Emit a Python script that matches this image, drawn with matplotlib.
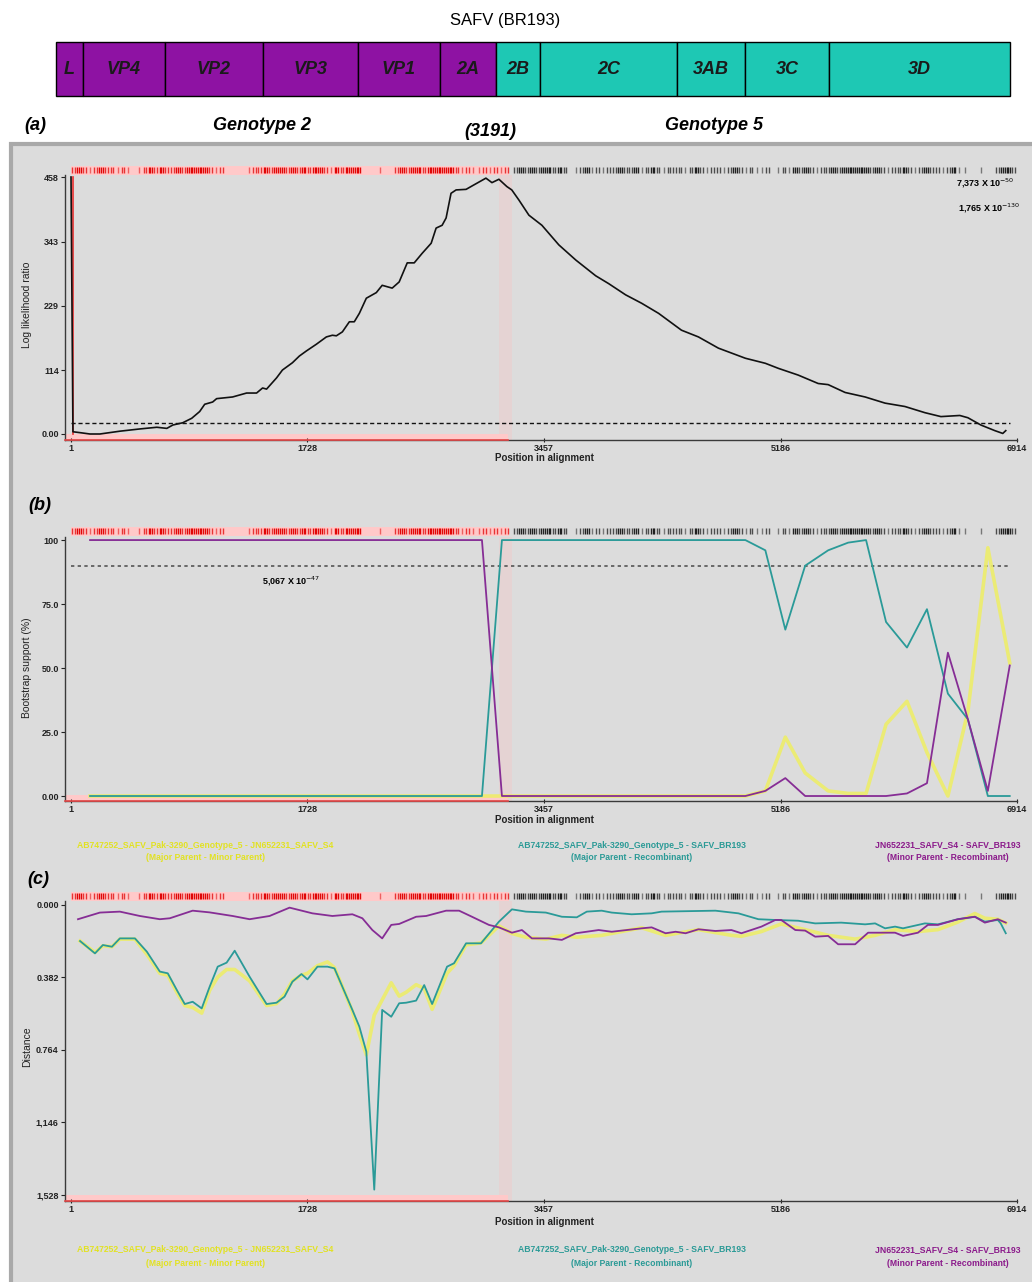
import matplotlib
matplotlib.use("Agg")
import matplotlib.pyplot as plt
import matplotlib.transforms as mtransforms
from matplotlib.collections import LineCollection
from matplotlib.patches import Rectangle

plt.rcParams['font.family'] = ['Liberation Sans', 'DejaVu Sans']

# ---------------- data ----------------
# genome map (SAFV BR193), alignment coordinates
gene_names = ["L", "VP4", "VP2", "VP3", "VP1", "2A", "2B", "2C", "3AB", "3C", "3D"]
gene_start = [1, 196, 790, 1500, 2189, 2783, 3191, 3508, 4500, 4993, 5602]
gene_end = [196, 790, 1500, 2189, 2783, 3191, 3508, 4500, 4993, 5602, 6914]
breakpoint = 3191
aln_len = 6914

x_ticks = [1, 1728, 3457, 5186, 6914]

# (a) log likelihood ratio
lrt_pos = [1, 15, 79, 139, 212, 358, 504, 628, 701, 745, 817, 883, 941, 978, 1036,
           1065, 1182, 1284, 1357, 1401, 1430, 1503, 1546, 1619, 1670, 1721, 1794,
           1867, 1911, 1940, 1984, 2035, 2071, 2108, 2159, 2232, 2275, 2348, 2399,
           2458, 2509, 2567, 2633, 2669, 2713, 2742, 2778, 2815, 2888, 2931, 3033,
           3077, 3128, 3186, 3222, 3274, 3347, 3442, 3566, 3690, 3835, 3930, 4054,
           4171, 4295, 4462, 4586, 4732, 4929, 5075, 5170, 5315, 5461, 5534, 5658,
           5804, 5950, 6095, 6241, 6358, 6496, 6555, 6650, 6752, 6810, 6832]
lrt_val = [458, 4, 2, 0, 0, 5, 9, 12, 10, 16, 20, 28, 40, 53, 57,
           63, 66, 73, 73, 82, 80, 100, 114, 127, 139, 148, 160,
           173, 176, 175, 182, 200, 200, 215, 242, 252, 265, 260, 271,
           305, 305, 322, 340, 367, 372, 385, 429, 435, 436, 442, 456,
           448, 454, 441, 435, 417, 390, 372, 337, 310, 282, 268, 248,
           233, 215, 185, 173, 153, 135, 126, 117, 105, 90, 88, 74,
           66, 55, 49, 38, 31, 33, 29, 16, 6, 1, 6]
lrt_cut = 19
lrt_yticks = [0, 114, 229, 343, 458]
lrt_ylabels = ["0.00", "114", "229", "343", "458"]

# (b) bootscan
boot_pos = [140, 3004, 3150, 4929, 5075, 5221, 5366, 5534, 5680, 5811, 5957, 6110,
            6256, 6409, 6555, 6701, 6861]
boot_teal = [0, 0, 100, 100, 96, 65, 90, 96, 99, 100, 68, 58, 73, 40, 30, 0, 0]
boot_purple = [100, 100, 0, 0, 2, 7, 0, 0, 0, 0, 0, 1, 5, 56, 30, 2, 51]
boot_yellow = [0, 0, 0, 0, 2, 23, 9, 2, 1, 1, 28, 37, 17, 0, 33, 97, 52]
boot_cut = 90
boot_yticks = [0, 25, 50, 75, 100]
boot_ylabels = ["0.00", "25.0", "50.0", "75.0", "100"]

# (c) distance plot
dist_purple_pos = [52, 212, 358, 504, 650, 723, 890, 1014, 1182, 1306, 1452, 1598, 1765,
                   1911, 2057, 2130, 2203, 2275, 2341, 2399, 2523, 2596, 2742, 2837,
                   2931, 3055, 3128, 3223, 3296, 3369, 3493, 3588, 3690, 3857, 3952,
                   4171, 4244, 4346, 4419, 4492, 4586, 4710, 4827, 4900, 5046, 5148,
                   5191, 5294, 5366, 5439, 5534, 5607, 5731, 5826, 6023, 6081, 6190,
                   6263, 6336, 6482, 6606, 6679, 6774, 6832]
dist_purple = [0.075, 0.04, 0.035, 0.058, 0.075, 0.07, 0.03, 0.039, 0.058, 0.075,
               0.058, 0.014, 0.044, 0.058, 0.049, 0.07, 0.132, 0.176, 0.105, 0.1,
               0.062, 0.058, 0.03, 0.03, 0.062, 0.105, 0.118, 0.146, 0.132, 0.176,
               0.176, 0.184, 0.149, 0.132, 0.141, 0.123, 0.118, 0.149, 0.141, 0.149,
               0.128, 0.137, 0.132, 0.149, 0.114, 0.079, 0.079, 0.132, 0.135, 0.167,
               0.163, 0.207, 0.207, 0.146, 0.146, 0.163, 0.146, 0.105, 0.105, 0.075,
               0.062, 0.093, 0.075, 0.093]
dist_teal_pos = [67, 176, 234, 300, 358, 468, 555, 650, 708, 774, 832, 890, 956, 1014,
                 1073, 1138, 1197, 1306, 1430, 1503, 1561, 1619, 1685, 1729, 1802,
                 1875, 1926, 1984, 2057, 2108, 2159, 2217, 2275, 2341, 2399, 2450,
                 2523, 2582, 2640, 2749, 2800, 2888, 2997, 3128, 3223, 3325, 3471,
                 3588, 3697, 3770, 3879, 3952, 4098, 4244, 4317, 4710, 4878, 5024,
                 5148, 5315, 5439, 5629, 5804, 5877, 5950, 6023, 6081, 6241, 6336,
                 6482, 6606, 6679, 6774, 6795, 6832]
dist_teal = [0.19, 0.255, 0.211, 0.22, 0.176, 0.176, 0.246, 0.351, 0.36, 0.448,
             0.522, 0.51, 0.545, 0.431, 0.325, 0.304, 0.241, 0.378, 0.522, 0.515,
             0.483, 0.404, 0.364, 0.392, 0.325, 0.325, 0.334, 0.431, 0.553, 0.641,
             0.773, 1.5, 0.553, 0.589, 0.518, 0.515, 0.504, 0.422, 0.522, 0.325,
             0.307, 0.202, 0.202, 0.088, 0.023, 0.035, 0.04, 0.062, 0.065, 0.035,
             0.03, 0.04, 0.049, 0.044, 0.035, 0.03, 0.044, 0.075, 0.079, 0.083,
             0.097, 0.093, 0.102, 0.097, 0.123, 0.114, 0.123, 0.097, 0.102, 0.075,
             0.062, 0.088, 0.079, 0.097, 0.149]
dist_yellow_pos = [67, 176, 234, 300, 358, 468, 555, 650, 708, 774, 832, 890, 956, 1014,
                   1073, 1138, 1197, 1306, 1430, 1503, 1561, 1619, 1685, 1729, 1802,
                   1875, 1926, 1984, 2057, 2108, 2159, 2217, 2275, 2341, 2399, 2450,
                   2523, 2582, 2640, 2749, 2800, 2888, 2997, 3128, 3223, 3325, 3471,
                   3588, 3697, 3879, 4171, 4346, 4586, 4827, 4900, 5046, 5191, 5366,
                   5534, 5731, 5877, 6023, 6190, 6336, 6482, 6606, 6679, 6774, 6832]
dist_yellow = [0.19, 0.25, 0.215, 0.22, 0.18, 0.18, 0.26, 0.36, 0.37, 0.46,
               0.53, 0.54, 0.57, 0.45, 0.38, 0.34, 0.34, 0.40, 0.53, 0.52,
               0.47, 0.40, 0.37, 0.36, 0.32, 0.30, 0.33, 0.43, 0.56, 0.68,
               0.79, 0.58, 0.50, 0.41, 0.48, 0.46, 0.42, 0.44, 0.55, 0.36,
               0.32, 0.21, 0.20, 0.11, 0.15, 0.17, 0.18, 0.16, 0.17, 0.16,
               0.12, 0.16, 0.13, 0.16, 0.165, 0.14, 0.10, 0.13, 0.16, 0.18,
               0.16, 0.13, 0.14, 0.13, 0.09, 0.045, 0.07, 0.075, 0.095]
dist_yticks = [0.0, 0.382, 0.764, 1.146, 1.528]
dist_ylabels = ["0.000", "0.382", "0.764", "1,146", "1,528"]

# informative sites barcode, one char per 40 nt (' ' none, '.' few, ':' some, '|' many)
sites_bin = 40
sites_red = (":|:.:|::.:" ". .:|:|::|" ":||||:.:" "    " ".::|:||:"
             "|:|:||:.|:" "|||" "   .  " ":|:||:|||||" ":.:..:.:.:")
sites_black = (" :|:|:||:|:" " " ".:|.:.::|::|.:|:.::" ":.:|:.::.:|:.:..:" " "
               ".:.|:|:.::|:" "|||||" ":|:.::|:.:|::.:|." ".  . " " :||:")

legend_top = ["AB747252_SAFV_Pak-3290_Genotype_5 - JN652231_SAFV_S4",
              "AB747252_SAFV_Pak-3290_Genotype_5 - SAFV_BR193",
              "JN652231_SAFV_S4 - SAFV_BR193"]
legend_bottom = ["(Major Parent - Minor Parent)",
                 "(Major Parent - Recombinant)",
                 "(Minor Parent - Recombinant)"]

c_purple_gene = "#8e12a3"
c_teal_gene = "#1ec8b4"
c_yellow = "#eded6a"
c_teal = "#2a9a98"
c_purple = "#862d95"
c_pink = "#ffc9c9"
legend_colors = ["#e2e222", "#2a9a96", "#8b1a8b"]

W, H = 1032, 1282
fig = plt.figure(figsize=(W / 100, H / 100), dpi=100)


def px_axes(l, t, r, b):
    return fig.add_axes([l / W, 1 - b / H, (r - l) / W, (b - t) / H])


# gray screenshot background
fig.add_artist(Rectangle((11 / W, -0.01), 1.0, 1 - 144 / H + 0.01, transform=fig.transFigure,
                         facecolor="#dcdcdc", edgecolor="#a9a9a9", lw=3, zorder=0))

# ---------------- genome map ----------------
gax = px_axes(56, 42, 1010, 96)
gax.set_xlim(1, aln_len)
gax.set_ylim(0, 1)
gax.axis("off")
for name, s, e in zip(gene_names, gene_start, gene_end):
    col = c_purple_gene if e <= breakpoint else c_teal_gene
    gax.add_patch(Rectangle((s, 0), e - s, 1, facecolor=col, edgecolor="black",
                            lw=1, clip_on=False))
    gax.text((s + e) / 2, 0.5, name, ha="center", va="center", fontsize=13,
             fontweight="bold", fontstyle="italic", color="#1a1a1a")

fig.text(505 / W, 1 - 21 / H, "SAFV (BR193)", ha="center", va="center", fontsize=12)
for xp, yp, s in [(35, 125, "(a)"), (262, 125, "Genotype 2"), (490, 131, "(3191)"),
                  (714, 125, "Genotype 5"), (40, 505, "(b)"), (38, 880, "(c)")]:
    fig.text(xp / W, 1 - yp / H, s, ha="center", va="center", fontsize=13,
             fontweight="bold", fontstyle="italic")

levels = {" ": 0, ".": 1, ":": 2, "|": 3}


def draw_sites(ax, codes, start, color, y_top, y_bot, band=None):
    tr = mtransforms.blended_transform_factory(ax.transData, fig.transFigure)
    y0, y1 = 1 - y_bot / H, 1 - y_top / H
    if band is not None:
        ax.add_patch(Rectangle((start, y0 - 1.5 / H), len(codes) * sites_bin, y1 - y0 + 3 / H,
                               transform=tr, facecolor=band, edgecolor="none",
                               clip_on=False, zorder=1))
    segs, cols = [], []
    for i, c in enumerate(codes):
        n = levels[c]
        for k in range(n):
            x = start + sites_bin * (i + (k + 0.5) / n)
            segs.append([(x, y0), (x, y1)])
            cols.append(matplotlib.colors.to_rgba(color, 0.3 + 0.22 * n))
    lc = LineCollection(segs, colors=cols, linewidths=1.0, transform=tr,
                        clip_on=False, zorder=2)
    ax.add_collection(lc, autolim=False)


def setup_panel(ax, ylim, yticks, ylabels, ylabel, y_bot, stripe_top, ylab_y, xlab_y):
    ax.set_facecolor("none")
    ax.set_xlim(-43, aln_len)
    ax.set_ylim(*ylim)
    for sp in ["top", "right"]:
        ax.spines[sp].set_visible(False)
    for sp in ["left", "bottom"]:
        ax.spines[sp].set_color("#3a3a3a")
        ax.spines[sp].set_linewidth(1.0)
    ax.set_yticks(yticks)
    ax.set_yticklabels(ylabels)
    ax.set_xticks(x_ticks)
    ax.set_xticklabels([str(t) for t in x_ticks])
    ax.tick_params(axis="both", labelsize=6.5, length=3, width=0.8, pad=1.5,
                   colors="#222222")
    ax.tick_params(axis="x", direction="inout")
    for lab in ax.get_xticklabels() + ax.get_yticklabels():
        lab.set_fontweight("bold")
    # recombinant region shading
    ax.axvspan(breakpoint - 60, breakpoint + 30, color="#f2caca", alpha=0.45, lw=0, zorder=0)
    tr = mtransforms.blended_transform_factory(ax.transData, fig.transFigure)
    ax.add_patch(Rectangle((-43, 1 - (y_bot + 1) / H), breakpoint + 43, 7 / H, transform=tr,
                           facecolor=c_pink, edgecolor="none", clip_on=False, zorder=1))
    ax.plot([-43, breakpoint], [1 - y_bot / H] * 2, color="#e84a4a", lw=1.2,
            transform=tr, clip_on=False, zorder=3)
    draw_sites(ax, sites_red, 1, "#e00000", stripe_top, stripe_top + 6, band=c_pink)
    draw_sites(ax, sites_black, breakpoint, "#1a1a1a", stripe_top, stripe_top + 6)
    fig.text(27 / W, 1 - ylab_y / H, ylabel, rotation=90, ha="center", va="center",
             fontsize=7.5, color="#222222")
    fig.text(544 / W, 1 - xlab_y / H, "Position in alignment", ha="center", va="center",
             fontsize=7, fontweight="bold", color="#222222")


# ---------------- (a) LRT ----------------
ax_a = px_axes(65, 175, 1017, 440)
setup_panel(ax_a, (-10.7, 461.6), lrt_yticks, lrt_ylabels, "Log likelihood ratio",
            440, 167, 305, 458)
ax_a.plot([12, 12], [0, 458], color="#e83030", lw=1.2, zorder=4)
ax_a.plot(lrt_pos, lrt_val, color="#111111", lw=1.2, zorder=5)
ax_a.plot([1, 6860], [lrt_cut, lrt_cut], color="#111111", lw=1, ls=(0, (3, 2)), zorder=4)
ax_a.text(6470, 446, r"7,373 X 10$^{-50}$", fontsize=6.5, fontweight="bold",
          va="center", ha="left", clip_on=False)
ax_a.text(6480, 402, r"1,765 X 10$^{-130}$", fontsize=6.5, fontweight="bold",
          va="center", ha="left", clip_on=False)

# ---------------- (b) bootscan ----------------
ax_b = px_axes(65, 537, 1017, 801)
setup_panel(ax_b, (-1.95, 101.2), boot_yticks, boot_ylabels, "Bootstrap support (%)",
            801, 528, 668, 820)
ax_b.plot([1, 6860], [boot_cut, boot_cut], color="#555555", lw=1.2, ls=(0, (2, 2)), zorder=3)
ax_b.plot(boot_pos, boot_yellow, color=c_yellow, lw=2.6, alpha=0.9, zorder=4)
ax_b.plot(boot_pos, boot_teal, color=c_teal, lw=1.3, zorder=5)
ax_b.plot(boot_pos, boot_purple, color=c_purple, lw=1.3, zorder=6)
ax_b.text(1400, 84, r"5,067 X 10$^{-47}$", fontsize=6.5, fontweight="bold",
          va="center", ha="left")

# ---------------- (c) distance ----------------
ax_c = px_axes(65, 901, 1017, 1201)
setup_panel(ax_c, (1.56, -0.021), dist_yticks, dist_ylabels, "Distance",
            1201, 893, 1047, 1222)
ax_c.plot(dist_yellow_pos, dist_yellow, color=c_yellow, lw=2.6, alpha=0.9, zorder=4)
ax_c.plot(dist_teal_pos, dist_teal, color=c_teal, lw=1.3, zorder=5)
ax_c.plot(dist_purple_pos, dist_purple, color=c_purple, lw=1.3, zorder=6)

# legends under (b) and (c)
for y1, y2 in [(845, 857), (1250, 1263)]:
    for xc, t1, t2, col in zip([205, 632, 948], legend_top, legend_bottom, legend_colors):
        fig.text(xc / W, 1 - y1 / H, t1, ha="center", va="center", fontsize=6.2,
                 fontweight="bold", color=col)
        fig.text(xc / W, 1 - y2 / H, t2, ha="center", va="center", fontsize=6.2,
                 fontweight="bold", color=col)

plt.savefig("out.png", dpi=100)
